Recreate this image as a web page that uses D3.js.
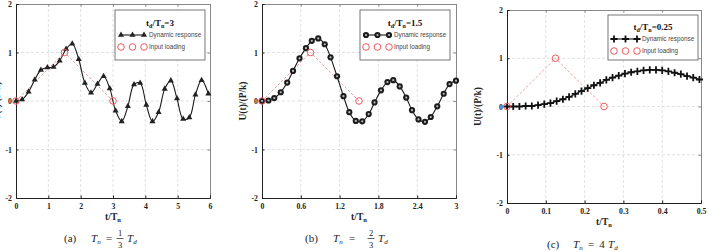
<!DOCTYPE html>
<html>
<head>
<meta charset="utf-8">
<script src="https://cdn.jsdelivr.net/npm/d3@7"></script>
<style>
body { margin: 0; background: #fff; }
svg { display: block; }
</style>
</head>
<body>
<div id="chart"></div>
<script>

// (a) td/Tn = 3
var tA = [0, 0.19, 0.39, 0.58, 0.77, 0.97, 1.16, 1.35, 1.55, 1.74, 1.94, 2.13, 2.32, 2.52, 2.71, 2.9,
          3.08, 3.27, 3.46, 3.65, 3.84, 4.03, 4.22, 4.41, 4.6, 4.79, 4.98, 5.17, 5.36, 5.55, 5.74, 5.95];
var uA = [0, 0.03, 0.19, 0.44, 0.64, 0.69, 0.7, 0.83, 1.07, 1.18, 0.86, 0.37, 0.17, 0.35, 0.51, 0.26,
          -0.2, -0.42, -0.11, 0.34, 0.37, -0.08, -0.42, -0.23, 0.25, 0.42, 0.05, -0.37, -0.34, 0.13, 0.43, 0.15];
var loadTA = [0, 1.5, 3];

// (b) td/Tn = 1.5
var tB = [0, 0.1, 0.19, 0.29, 0.39, 0.48, 0.58, 0.68, 0.77, 0.87, 0.97, 1.06, 1.16, 1.26, 1.35, 1.45,
          1.55, 1.65, 1.74, 1.84, 1.94, 2.03, 2.13, 2.23, 2.32, 2.42, 2.52, 2.61, 2.71, 2.81, 2.9, 3];
var uB = [0, 0.01, 0.06, 0.18, 0.38, 0.62, 0.88, 1.09, 1.24, 1.29, 1.17, 0.9, 0.51, 0.1, -0.23, -0.41,
          -0.42, -0.27, -0.03, 0.22, 0.39, 0.43, 0.3, 0.07, -0.19, -0.38, -0.43, -0.33, -0.11, 0.15, 0.35, 0.42];
var loadTB = [0, 0.75, 1.5];

// (c) td/Tn = 0.25
var tC = [0, 0.016, 0.032, 0.048, 0.064, 0.08, 0.096, 0.112, 0.128, 0.144, 0.16, 0.176, 0.192, 0.208, 0.224, 0.24,
          0.256, 0.272, 0.288, 0.304, 0.32, 0.336, 0.352, 0.368, 0.384, 0.4, 0.416, 0.432, 0.448, 0.464, 0.48, 0.496];
var uC = [0, 0, 0, 0.01, 0.01, 0.03, 0.05, 0.07, 0.11, 0.15, 0.2, 0.26, 0.32, 0.38, 0.44, 0.49,
          0.55, 0.6, 0.64, 0.68, 0.71, 0.73, 0.75, 0.76, 0.76, 0.75, 0.73, 0.7, 0.67, 0.63, 0.6, 0.56];
var loadTC = [0, 0.125, 0.25];

var loadU = [0, 1, 0];
var yTicks = [-2, -1, 0, 1, 2];
var xTicksA = [0, 1, 2, 3, 4, 5, 6];
var xTicksB = [0, 0.6, 1.2, 1.8, 2.4, 3];
var xTicksC = [0, 0.1, 0.2, 0.3, 0.4, 0.5];

var serif = "'Liberation Serif', 'Times New Roman', serif";
var sans = "'Liberation Sans', Arial, sans-serif";
var red = "#ec5a5f";

var svg = d3.select("#chart").append("svg")
  .attr("width", 709)
  .attr("height", 252);

function drawMarker(sel, kind) {
  if (kind == "tri") {
    sel.append("path").attr("d", d3.symbol(d3.symbolTriangle, 16)())
      .attr("fill", "#222");
  } else if (kind == "dia") {
    sel.append("circle").attr("r", 3.1).attr("fill", "#1c1c1c");
    sel.append("circle").attr("r", 1.1).attr("fill", "#bbb");
  } else {
    sel.append("path").attr("d", "M-3.6,0H3.6M0,-3.6V3.6")
      .attr("stroke", "#111").attr("stroke-width", 1.8);
  }
}

function txt(xx, yy, s, opt) {
  opt = opt || {};
  return svg.append("text").attr("x", xx).attr("y", yy)
    .attr("font-family", serif).attr("font-size", opt.size || 11)
    .attr("font-style", opt.italic ? "italic" : "normal")
    .attr("text-anchor", opt.anchor || "start").attr("fill", "#222").text(s);
}

function panel(p) {
  var x = d3.scaleLinear().domain([0, p.xmax]).range([p.left, p.right]);
  var y = d3.scaleLinear().domain([-2, 2]).range([p.bottom, p.top]);
  var g = svg.append("g");

  // dashed grid
  g.selectAll(".gx").data(p.xticks.slice(1, -1)).enter().append("line")
    .attr("x1", d => x(d)).attr("x2", d => x(d))
    .attr("y1", p.top).attr("y2", p.bottom)
    .attr("stroke", "#d4d4d4").attr("stroke-width", 0.7).attr("stroke-dasharray", "3,2");
  g.selectAll(".gy").data([-1, 0, 1]).enter().append("line")
    .attr("x1", p.left).attr("x2", p.right)
    .attr("y1", d => y(d)).attr("y2", d => y(d))
    .attr("stroke", "#d4d4d4").attr("stroke-width", 0.7).attr("stroke-dasharray", "3,2");

  // top / right frame
  var top = g.append("g").attr("transform", "translate(0," + p.top + ")")
    .call(d3.axisTop(x).tickValues(p.xticks).tickSize(-2.5).tickFormat(""));
  var right = g.append("g").attr("transform", "translate(" + p.right + ",0)")
    .call(d3.axisRight(y).tickValues(yTicks).tickSize(-2.5).tickFormat(""));
  top.selectAll("path,line").attr("stroke", "#888");
  right.selectAll("path,line").attr("stroke", "#888");

  var bottom = g.append("g").attr("transform", "translate(0," + p.bottom + ")")
    .call(d3.axisBottom(x).tickValues(p.xticks).tickSize(-2.5).tickPadding(5)
      .tickFormat(d => String(d)));
  var left = g.append("g").attr("transform", "translate(" + p.left + ",0)")
    .call(d3.axisLeft(y).tickValues(yTicks).tickSize(-2.5).tickPadding(4)
      .tickFormat(d => String(d)));
  [bottom, left].forEach(function(a) {
    a.selectAll("path,line").attr("stroke", "#222");
    a.selectAll("text").attr("font-family", serif).attr("font-weight", "bold")
      .attr("font-size", 7.8).attr("fill", "#222");
  });

  // input loading
  var load = p.loadT.map((t, i) => [t, loadU[i]]);
  g.append("path").datum(load)
    .attr("d", d3.line().x(d => x(d[0])).y(d => y(d[1])))
    .attr("fill", "none").attr("stroke", red).attr("stroke-width", 0.8)
    .attr("stroke-dasharray", "2.5,2").attr("opacity", 0.8);

  // dynamic response
  var resp = p.t.map((t, i) => [t, p.u[i]]);
  g.append("path").datum(resp)
    .attr("d", d3.line().x(d => x(d[0])).y(d => y(d[1])).curve(d3.curveCatmullRom))
    .attr("fill", "none").attr("stroke", "#1a1a1a").attr("stroke-width", 1.1);
  g.selectAll(".m").data(resp).enter().append("g")
    .attr("transform", d => "translate(" + x(d[0]) + "," + y(d[1]) + ")")
    .each(function() { drawMarker(d3.select(this), p.marker); });

  g.selectAll(".lc").data(load).enter().append("circle")
    .attr("cx", d => x(d[0])).attr("cy", d => y(d[1])).attr("r", 3.3)
    .attr("fill", "none").attr("stroke", red).attr("stroke-width", 1);

  // axis titles
  var xl = g.append("text").attr("x", (p.left + p.right) / 2).attr("y", p.bottom + 22)
    .attr("text-anchor", "middle").attr("font-family", serif).attr("font-weight", "bold")
    .attr("font-size", 9.5).attr("fill", "#222");
  xl.append("tspan").text("t/T");
  xl.append("tspan").attr("font-size", 6.5).attr("dy", 2).text("n");

  g.append("text")
    .attr("transform", "translate(" + p.ylabX + "," + (p.top + p.bottom) / 2 + ") rotate(-90)")
    .attr("text-anchor", "middle").attr("font-family", serif).attr("font-weight", "bold")
    .attr("font-size", 9.5).attr("fill", "#222").attr("dy", "0.35em")
    .text("U(t)/(P/k)");

  // legend
  var L = p.legend;
  g.append("rect").attr("x", L.x).attr("y", L.y).attr("width", 90).attr("height", L.h)
    .attr("fill", "#fff").attr("stroke", "#555").attr("stroke-width", 0.8);
  var lt = g.append("text").attr("x", L.x + 45).attr("y", L.y + L.title)
    .attr("text-anchor", "middle").attr("font-family", serif).attr("font-weight", "bold")
    .attr("font-size", 9).attr("fill", "#111");
  lt.append("tspan").text("t");
  lt.append("tspan").attr("font-size", 6).attr("dy", 2).text("d");
  lt.append("tspan").attr("dy", -2).text("/T");
  lt.append("tspan").attr("font-size", 6).attr("dy", 2).text("n");
  lt.append("tspan").attr("dy", -2).text("=" + p.ratio);

  var r1 = L.y + L.row1, r2 = L.y + L.row1 + 12;
  var mx = [L.x + 6, L.x + 17.5, L.x + 29];
  g.append("line").attr("x1", mx[0]).attr("x2", mx[2]).attr("y1", r1).attr("y2", r1)
    .attr("stroke", "#1a1a1a").attr("stroke-width", 1.1);
  mx.forEach(function(m) {
    drawMarker(g.append("g").attr("transform", "translate(" + m + "," + r1 + ")"), p.marker);
    g.append("circle").attr("cx", m).attr("cy", r2).attr("r", 3.3)
      .attr("fill", "none").attr("stroke", red).attr("stroke-width", 1);
  });
  g.append("text").attr("x", L.x + 34).attr("y", r1).attr("dy", "0.35em")
    .attr("font-family", sans).attr("font-size", 6.3).attr("fill", "#444").text("Dynamic response");
  g.append("text").attr("x", L.x + 34).attr("y", r2).attr("dy", "0.35em")
    .attr("font-family", sans).attr("font-size", 6.3).attr("fill", "#444").text("Input loading");

  // caption
  var c = p.cap, cy = c.y;
  txt(c.x, cy, "(" + p.letter + ")", {});
  var tn = txt(c.tn, cy, "T", { italic: true });
  tn.append("tspan").attr("font-size", 7).attr("dy", 2).text("n");
  txt(c.eq, cy, "=", {});
  if (c.num) {
    txt(c.fx, cy - 6, c.num, { size: 8.5, anchor: "middle" });
    svg.append("line").attr("x1", c.fx - 3.5).attr("x2", c.fx + 3.5).attr("y1", cy - 3.5).attr("y2", cy - 3.5)
      .attr("stroke", "#222").attr("stroke-width", 0.7);
    txt(c.fx, cy + 6, c.den, { size: 8.5, anchor: "middle" });
  } else {
    txt(c.fx, cy, c.factor, { anchor: "middle" });
  }
  var td = txt(c.td, cy, "T", { italic: true });
  td.append("tspan").attr("font-size", 7).attr("dy", 2).attr("font-style", "italic").text("d");
}

panel({ left: 16, right: 210, top: 4, bottom: 198, xmax: 6, xticks: xTicksA,
  t: tA, u: uA, loadT: loadTA, marker: "tri", ratio: "3", ylabX: -3, letter: "a",
  legend: { x: 115, y: 10, h: 50, title: 16, row1: 25 },
  cap: { x: 64, y: 242, tn: 91, eq: 106, fx: 120, td: 127, num: "1", den: "3" } });

panel({ left: 262, right: 456, top: 4, bottom: 198, xmax: 3, xticks: xTicksB,
  t: tB, u: uB, loadT: loadTB, marker: "dia", ratio: "1.5", ylabX: 243, letter: "b",
  legend: { x: 360, y: 10, h: 50, title: 16, row1: 25 },
  cap: { x: 305, y: 242, tn: 333, eq: 349, fx: 371, td: 378, num: "2", den: "3" } });

panel({ left: 507, right: 701, top: 10, bottom: 203, xmax: 0.5, xticks: xTicksC,
  t: tC, u: uC, loadT: loadTC, marker: "plus", ratio: "0.25", ylabX: 478, letter: "c",
  legend: { x: 608, y: 15, h: 45, title: 15, row1: 24 },
  cap: { x: 547, y: 248, tn: 573, eq: 588, fx: 602, td: 608, factor: "4" } });

</script>
</body>
</html>
